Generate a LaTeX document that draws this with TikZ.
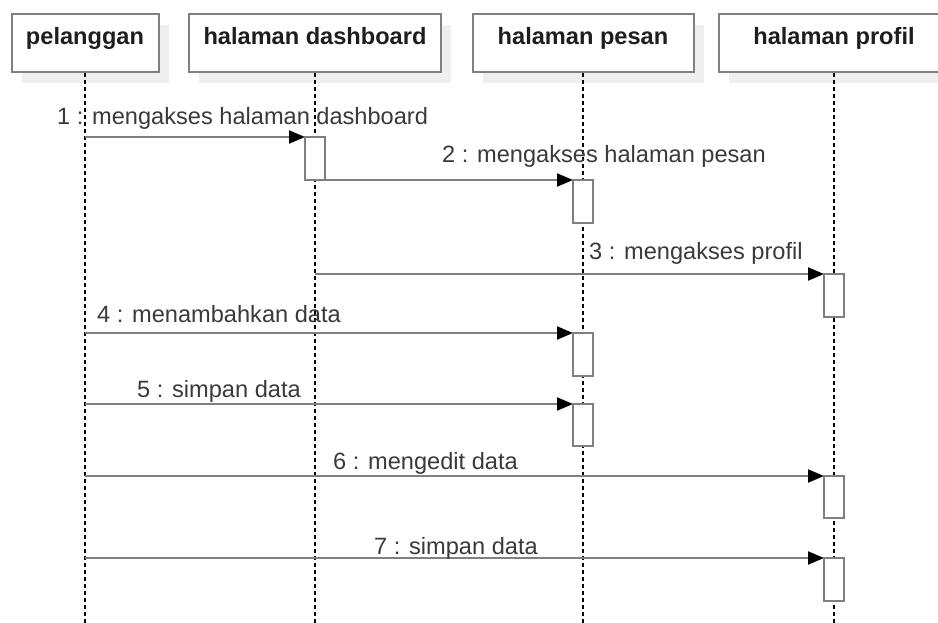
\documentclass[tikz,border=0pt]{standalone}
\usepackage{fontspec}
\setmainfont{Liberation Sans}
\usetikzlibrary{arrows.meta}

\definecolor{edgegray}{HTML}{808080}
\definecolor{shadowgray}{HTML}{EFEFEF}
\definecolor{headtext}{HTML}{1E1E1E}
\definecolor{msgtext}{HTML}{3A3A3A}

\pgfdeclarelayer{bg}
\pgfsetlayers{bg,main}

\tikzset{
  hdr/.style={draw=edgegray, line width=2pt, fill=white, minimum height=58pt,
    inner sep=0pt, outer sep=0pt, anchor=north},
  hdrshadow/.style={fill=shadowgray},
  hdrtext/.style={font=\fontsize{23.6pt}{28pt}\selectfont\bfseries, text=headtext,
    inner sep=0pt, anchor=base},
  life/.style={draw=black, line width=1.5pt, dash pattern=on 4pt off 3pt},
  act/.style={draw=edgegray, line width=2pt, fill=white, minimum width=20pt,
    inner sep=0pt, outer sep=0pt, anchor=north},
  msg/.style={draw=edgegray, line width=2pt,
    -{Triangle[length=16pt,width=13pt,color=black]}},
  msglabel/.style={font=\fontsize{23.6pt}{28pt}\selectfont, text=msgtext,
    inner sep=0pt, anchor=base west},
}

\begin{document}
\begin{tikzpicture}[x=1pt, y=-1pt]
  \useasboundingbox (0,0) rectangle (938,623);
  \clip (0,0) rectangle (938,623);

  % lifeline heads
  \node[hdr, minimum width=147pt] (h1) at (85,14) {};
  \node[hdr, minimum width=252pt] (h2) at (315,14) {};
  \node[hdr, minimum width=221pt] (h3) at (583,14) {};
  \node[hdr, minimum width=230pt] (h4) at (834,14) {};

  % page and head shadows, behind everything
  \begin{pgfonlayer}{bg}
    \fill[white] (0,0) rectangle (938,623);
    \foreach \h in {h1,h2,h3,h4}
      \fill[hdrshadow] ([shift={(10,11)}]\h.north west)
                       rectangle ([shift={(10,11)}]\h.south east);
  \end{pgfonlayer}

  \node[hdrtext] (t1) at (85,45) {pelanggan};
  \node[hdrtext] (t2) at (315,45) {halaman dashboard};
  \node[hdrtext] (t3) at (583,45) {halaman pesan};
  \node[hdrtext] (t4) at (834,45) {halaman profil};

  % lifelines
  \coordinate (e1) at (85,630);
  \coordinate (e2) at (315,630);
  \coordinate (e3) at (583,630);
  \coordinate (e4) at (834,630);
  \draw[life] ([yshift=-1pt]h1.south) -- (e1);
  \draw[life] ([yshift=-1pt]h2.south) -- (e2);
  \draw[life] ([yshift=-1pt]h3.south) -- (e3);
  \draw[life] ([yshift=-1pt]h4.south) -- (e4);

  % activation bars
  \node[act, minimum height=43pt] (a1) at (315,137) {};
  \node[act, minimum height=43pt] (a2) at (583,180) {};
  \node[act, minimum height=43pt] (a3) at (834,274) {};
  \node[act, minimum height=43pt] (a4) at (583,333) {};
  \node[act, minimum height=42pt] (a5) at (583,404) {};
  \node[act, minimum height=42pt] (a6) at (834,476) {};
  \node[act, minimum height=43pt] (a7) at (834,558) {};

  % message sources on the lifelines
  \coordinate (s1) at (h1.south |- a1.north);
  \coordinate (s3) at (h2.south |- a3.north);
  \coordinate (s4) at (h1.south |- a4.north);
  \coordinate (s5) at (h1.south |- a5.north);
  \coordinate (s6) at (h1.south |- a6.north);
  \coordinate (s7) at (h1.south |- a7.north);

  % messages
  \draw[msg] (s1) -- (a1.north west);
  \draw[msg] (a1.south east) -- (a2.north west);
  \draw[msg] (s3) -- (a3.north west);
  \draw[msg] (s4) -- (a4.north west);
  \draw[msg] (s5) -- (a5.north west);
  \draw[msg] (s6) -- (a6.north west);
  \draw[msg] (s7) -- (a7.north west);

  % bar outlines drawn again over the arrow tips
  \foreach \n in {a1,a2,a3,a4,a5,a6,a7}
    \draw[edgegray, line width=2pt] (\n.north west) rectangle (\n.south east);

  % message labels
  \node[msglabel] (m1) at (57,124.5) {1 : mengakses halaman dashboard};
  \node[msglabel] (m2) at (442,163) {2 : mengakses halaman pesan};
  \node[msglabel] (m3) at (589,259) {3 : mengakses profil};
  \node[msglabel] (m4) at (97,322) {4 : menambahkan data};
  \node[msglabel] (m5) at (137,397) {5 : simpan data};
  \node[msglabel] (m6) at (333,469) {6 : mengedit data};
  \node[msglabel] (m7) at (374,554) {7 : simpan data};
\end{tikzpicture}
\end{document}
